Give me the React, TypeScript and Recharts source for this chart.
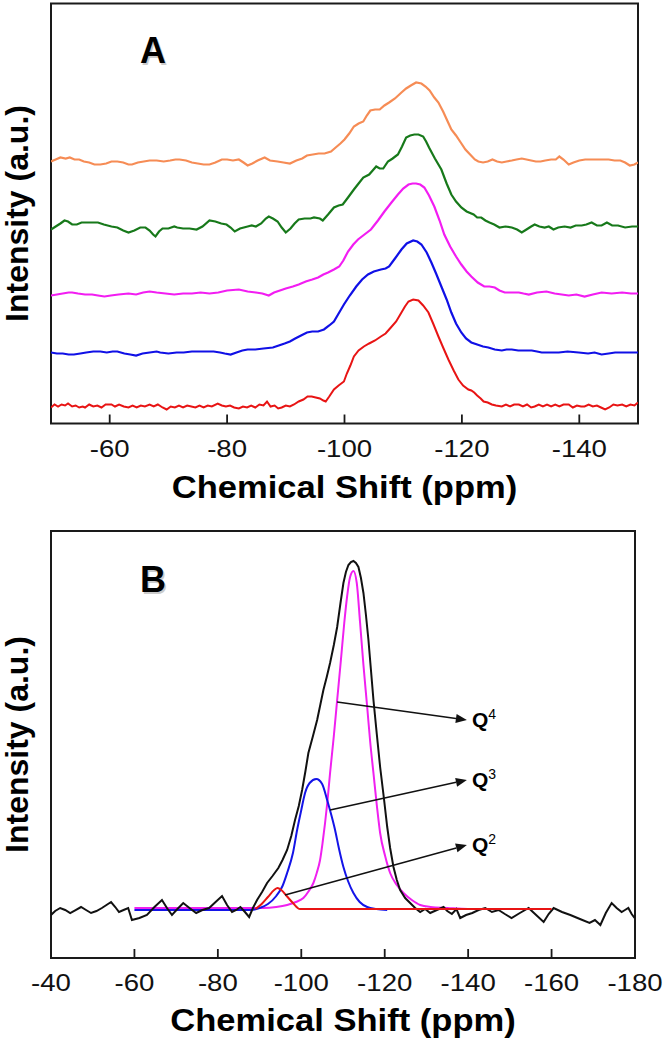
import { LineChart, Line, XAxis, YAxis, ReferenceArea, ReferenceLine, Label } from "recharts"

const FONT = "'Liberation Sans', Arial, Helvetica, sans-serif"

// panel A: stacked 29Si spectra, [ppm, intensity incl. stack offset]
const ticksA = [-60, -80, -100, -120, -140]
const orangeA = [[-50,262],[-50.8,264],[-51.6,266],[-52.5,265],[-53.2,266],[-54,264],[-54.8,264],[-55.6,262],[-56.5,261],[-57.4,259],[-58.4,259],[-59.4,260],[-60.3,262],[-61.3,262],[-62.3,261],[-63.2,259],[-63.8,259],[-64.8,261],[-65.8,262],[-66.8,263],[-68,263],[-69.2,262],[-70.3,263],[-71.2,264],[-71.9,264],[-73,263],[-74,261],[-75,260],[-76,259],[-77,259],[-78,261],[-79.1,264],[-80,264],[-81,263],[-82,264],[-82.8,261],[-83.5,258],[-84.3,260],[-85.2,263],[-86.4,266],[-87.3,263],[-88.6,262],[-89.6,261],[-90.7,260],[-91.8,263],[-92.8,265],[-93.6,268],[-94.6,269],[-95.6,270],[-96.6,270],[-97.7,272],[-98.5,276],[-99.3,280],[-100,284],[-100.8,290],[-101.6,297],[-102.4,300],[-103.2,302],[-103.8,308],[-104.4,313],[-105.2,314],[-106,314],[-106.8,318],[-107.6,321],[-108.6,325],[-109.7,331],[-110.5,335],[-111.3,338],[-112.2,341],[-113.1,340],[-113.8,337],[-114.5,333],[-115.3,326],[-116,321],[-116.8,312],[-117.5,303],[-118.2,294],[-119,288],[-119.8,281],[-120.6,274],[-121.4,269],[-122.2,264],[-122.8,262],[-123.6,261],[-124.4,262],[-125.2,264],[-126,262],[-126.8,261],[-127.6,262],[-128.5,263],[-129.3,264],[-130.2,265],[-131,264],[-131.8,263],[-132.6,262],[-133.4,262],[-134.2,263],[-135.2,264],[-136,264],[-136.6,267],[-137.3,264],[-138.2,259],[-139,261],[-140,263],[-141,264],[-142,264],[-143,264],[-144,264],[-145,264],[-146,263],[-147,263],[-147.8,261],[-148.6,258],[-149.4,259],[-150,261]]
const greenA = [[-50,194],[-50.8,197],[-51.6,200],[-52.3,203],[-52.9,202],[-53.6,199],[-54.4,199],[-55.2,201],[-56.2,201],[-57,201],[-58,201],[-59,199],[-60.3,197],[-61.3,196],[-62.3,193],[-63.2,191],[-64.2,193],[-65.2,196],[-66.1,196],[-66.8,193],[-67.4,189],[-67.8,187],[-68.4,192],[-69,195],[-70,195],[-71,197],[-71.5,196],[-72.5,195],[-73.6,195],[-74.8,194],[-75.8,197],[-77,203],[-78,202],[-79,200],[-79.9,199],[-80.6,196],[-81.3,192],[-82.2,195],[-83.5,197],[-84.2,198],[-84.9,197],[-85.8,200],[-86.6,205],[-87.1,207],[-87.8,205],[-88.6,202],[-89.3,196],[-90,191],[-90.8,195],[-91.5,200],[-92.2,204],[-93.2,205],[-94.2,205],[-94.8,206],[-95.8,205],[-96.3,203],[-97.2,209],[-98.2,216],[-99,218],[-99.7,219],[-100.6,226],[-101.6,234],[-102.4,240],[-103.2,246],[-104.2,249],[-104.8,253],[-105.4,257],[-106,255],[-106.6,255],[-107.4,262],[-108.2,265],[-109.1,269],[-109.8,277],[-110.5,286],[-111.2,288],[-111.9,289],[-112.6,289],[-113.4,287],[-113.9,282],[-114.4,276],[-115.4,265],[-116.5,254],[-117.4,240],[-118.2,229],[-119,222],[-119.9,216],[-120.8,212],[-122,209],[-122.6,206],[-123.3,206],[-124,203],[-124.7,201],[-125.5,199],[-126.4,196],[-127.4,197],[-128.5,196],[-129.4,194],[-130.2,191],[-131,194],[-131.8,197],[-132.4,199],[-133.2,197],[-134.1,196],[-134.8,197],[-135.6,194],[-136.4,196],[-137.5,197],[-138.5,196],[-139.4,198],[-140.4,198],[-141.2,199],[-142.1,201],[-143,198],[-143.8,198],[-144.7,201],[-145.6,198],[-146.6,198],[-147.8,196],[-149,197],[-150,197]]
const magentaA = [[-50,128],[-51,129],[-52,130],[-53,131],[-53.6,131],[-54.6,130],[-55.8,129],[-57,129],[-58,128],[-59.1,127],[-60.2,128],[-61.5,129],[-63.2,130],[-64.5,129],[-65.7,131],[-66.8,132],[-68,131],[-69.5,130],[-71,129],[-72.5,130],[-74,130],[-75.5,131],[-77,130],[-78.5,131],[-80,133],[-82,134],[-83.5,132],[-84.9,131],[-86,130],[-87.1,128],[-88,131],[-89,133],[-90,135],[-91.2,137],[-92.2,139],[-93.4,142],[-94.5,144],[-95.5,146],[-96.4,149],[-97.2,151],[-98.2,154],[-99.1,157],[-99.8,163],[-100.6,172],[-101.5,179],[-102.3,184],[-103.4,189],[-104.5,194],[-105.7,203],[-106.8,212],[-108,221],[-109.1,229],[-110,235],[-110.9,239],[-111.6,240],[-112.2,240],[-112.9,239],[-113.6,236],[-114.4,228],[-115.3,217],[-116.2,203],[-117,189],[-118,177],[-119,167],[-119.9,159],[-120.8,152],[-121.6,147],[-122.7,141],[-123.8,137],[-124.7,137],[-125.6,136],[-126.4,133],[-127.3,131],[-128.5,131],[-129.7,131],[-130.5,130],[-131.4,129],[-132.8,131],[-134.4,132],[-135.8,130],[-137,129],[-138.2,128],[-139.5,129],[-140.9,127],[-142.3,129],[-143.8,131],[-145.5,130],[-147.3,131],[-148.8,130],[-150,130]]
const blueA = [[-50,71],[-51,70],[-52,70],[-53,69],[-53.9,69],[-55,70],[-56,71],[-57.2,72],[-58.4,72],[-59.5,71],[-60.5,72],[-61.3,72],[-62.5,70],[-63.5,69],[-64.5,68],[-65.6,70],[-66.8,71],[-68,72],[-68.6,71],[-70,70],[-71.4,71],[-72.6,71],[-74,72],[-75.5,72],[-76.8,72],[-77.7,72],[-78.8,71],[-79.6,70],[-80.6,69],[-81.6,71],[-82.6,73],[-83.5,74],[-84.8,74],[-86.2,75],[-87.8,76],[-88.8,78],[-89.8,80],[-90.7,82],[-91.6,85],[-92.6,88],[-93.6,91],[-94.5,92],[-95.5,92],[-96.5,94],[-97.4,98],[-98.2,102],[-99,110],[-99.9,119],[-100.9,128],[-102,137],[-103,144],[-104,149],[-105,152],[-106.2,154],[-107,155],[-107.6,157],[-108.6,165],[-109.7,174],[-110.6,180],[-111.7,183],[-112.4,182],[-113.1,179],[-114,171],[-114.8,161],[-115.6,150],[-116.5,137],[-117.4,124],[-118.2,111],[-119,100],[-119.9,91],[-120.7,85],[-121.6,81],[-122.6,79],[-123.6,77],[-124.5,76],[-125.6,74],[-126.8,73],[-127.6,74],[-128.5,74],[-129.6,73],[-130.8,73],[-131.9,73],[-132.8,72],[-133.6,71],[-135,71],[-136.5,71],[-138,72],[-139.9,71],[-141.5,70],[-142.6,71],[-143.8,69],[-145,70],[-146.1,71],[-147.5,71],[-149,71],[-150,71]]
const redA = [[-50,16],[-50.6,19],[-51.2,17],[-51.8,19],[-52.4,18],[-52.9,20],[-53.6,17],[-54.2,18],[-54.8,16],[-55.4,17],[-55.8,16],[-56.5,19],[-57.2,17],[-57.9,18],[-58.6,16],[-59.3,19],[-60.3,19],[-60.9,17],[-61.6,19],[-62.4,17],[-63.2,16],[-63.9,18],[-64.6,16],[-65.3,18],[-66,17],[-66.8,19],[-67.5,17],[-68.2,19],[-69,16],[-69.7,14],[-70.4,17],[-71.1,16],[-71.8,18],[-72.5,16],[-73.2,18],[-73.9,17],[-74.6,16],[-75.3,18],[-76,16],[-76.7,18],[-77.4,17],[-78.4,20],[-79.1,18],[-79.8,17],[-80.5,18],[-81.2,16],[-82,15],[-82.7,17],[-83.4,16],[-84.1,18],[-84.8,16],[-85.5,19],[-86.2,18],[-86.8,22],[-87.4,17],[-88.1,18],[-88.7,15],[-89.3,16],[-90,18],[-90.7,17],[-91.4,19],[-92.2,22],[-93,24],[-93.7,27],[-94.4,27],[-95.1,26],[-95.8,25],[-96.4,23],[-96.8,22],[-97.4,27],[-98.2,34],[-99,38],[-99.9,42],[-100.4,50],[-101,58],[-101.6,67],[-102.4,73],[-103.3,77],[-104.2,80],[-105.2,83],[-106.2,87],[-107,90],[-107.9,96],[-108.8,102],[-109.7,111],[-110.3,117],[-110.9,122],[-111.7,124],[-112.6,123],[-113.4,118],[-114.3,111],[-115.1,100],[-116,87],[-116.8,76],[-117.7,64],[-118.6,53],[-119.4,44],[-120.2,38],[-121.1,34],[-121.6,33],[-122.1,31],[-122.6,28],[-123.2,25],[-123.7,22],[-124.4,21],[-125.1,19],[-125.8,18],[-126.8,17],[-127.5,19],[-128.2,17],[-128.9,19],[-129.7,19],[-130.4,17],[-131.1,19],[-131.8,16],[-132.4,17],[-133.1,19],[-133.8,17],[-134.5,19],[-135.2,17],[-135.9,19],[-136.6,17],[-137.3,19],[-138.2,19],[-138.9,16],[-139.6,18],[-140.3,17],[-140.9,17],[-141.6,19],[-142.3,17],[-143,18],[-143.7,16],[-144.4,14],[-145.1,16],[-145.8,19],[-146.5,18],[-147.3,19],[-148,17],[-148.7,19],[-149.4,18],[-150,21]]

// panel B: measured spectrum and Q2/Q3/Q4 fits
const ticksB = [-40, -60, -80, -100, -120, -140, -160, -180]
const measuredB = [[-40,43],[-41,47],[-42.2,50],[-43.4,48],[-44.6,45],[-45.9,48],[-47.2,51],[-48.4,48],[-49.6,45],[-50.9,47],[-52.2,50],[-53.3,53],[-54.4,56],[-55.4,51],[-56.3,46],[-57.4,48],[-58.5,50],[-59.4,38],[-61.2,40],[-63,43],[-64.8,51],[-66.6,58],[-67.8,50],[-69,43],[-70.3,49],[-71.7,55],[-73.2,50],[-74.8,45],[-76.3,48],[-77.9,50],[-79.2,55],[-81,62],[-82.2,53],[-83.4,46],[-84.4,48],[-85.4,51],[-86.5,46],[-87.5,41],[-88.4,50],[-89.4,58],[-90.6,66],[-91.8,75],[-93.1,82],[-94.5,90],[-95.5,98],[-96.6,108],[-97.6,122],[-98.5,138],[-99.4,152],[-100.2,168],[-101,187],[-101.7,205],[-102.8,222],[-103.8,238],[-104.6,254],[-105.3,268],[-106.1,281],[-106.9,295],[-107.8,313],[-108.6,331],[-109.4,355],[-110.1,375],[-110.7,386],[-111.3,393],[-111.9,396],[-112.5,397],[-113.1,395],[-113.7,391],[-114.3,380],[-114.9,365],[-115.5,343],[-116.1,318],[-116.7,288],[-117.3,258],[-118.1,224],[-118.9,191],[-119.8,160],[-120.6,131],[-121.3,110],[-122.1,91],[-122.9,78],[-123.7,68],[-124.9,60],[-126.1,55],[-127.3,50],[-128.5,46],[-129.7,49],[-130.9,45],[-132.5,48],[-134.1,51],[-135,47],[-136.1,44],[-137.2,49],[-138.1,40],[-139.5,43],[-141,45],[-142.5,48],[-144.1,50],[-145.7,46],[-147.3,48],[-148.8,44],[-150.4,40],[-152.4,45],[-154.5,50],[-156.3,43],[-158.1,36],[-159.3,44],[-160.5,50],[-162.5,46],[-164.5,43],[-166.8,39],[-169.1,35],[-170.4,38],[-171.7,33],[-173,45],[-174.4,55],[-175.6,50],[-176.8,46],[-177.6,48],[-178.4,50],[-179.2,44],[-179.9,40]]
const q4Fit = [[-60,50],[-80,50],[-88,50],[-90.9,50],[-94,51],[-96.6,53],[-98.7,56],[-100.5,60],[-101.8,67],[-102.9,75],[-103.7,85],[-104.5,98],[-105.1,115],[-105.7,135],[-106.3,158],[-106.9,185],[-107.8,222],[-108.6,258],[-109.5,298],[-110.3,335],[-111,362],[-111.7,381],[-112.5,387],[-113.3,375],[-114.1,335],[-114.9,293],[-115.8,251],[-116.5,217],[-117.3,185],[-118.1,153],[-118.9,125],[-120.1,102],[-121.3,85],[-122.9,73],[-124.5,65],[-126.5,58],[-128.5,53],[-131,51],[-135,50],[-140,49],[-146.8,49]]
const q3Fit = [[-60,48],[-80,48],[-88,48],[-90,50],[-92,54],[-94,62],[-95.5,72],[-96.6,85],[-98,105],[-99,128],[-100,148],[-100.9,165],[-102,175],[-103.6,179],[-105,174],[-106.2,158],[-107.2,143],[-108.1,128],[-109,110],[-110.1,91],[-111.2,77],[-112.5,65],[-114,56],[-115.8,51],[-118,49],[-120.6,48]]
const q2Fit = [[-89,49],[-90.5,54],[-92,61],[-93.5,68],[-94.3,70],[-95.2,68],[-96.5,62],[-98,55],[-99.7,49],[-120,49],[-160,49]]

// arrows to the Q labels: start on a curve, end at the label
const qNames = ["4", "3", "2"]
const arrowFrom = [{ x: -108.6, y: 256 }, { x: -106.9, y: 148 }, { x: -96.1, y: 63 }]
const arrowTo = [{ x: -139.7, y: 238 }, { x: -139.7, y: 178 }, { x: -139.7, y: 113 }]

const toPts = (arr: number[][]) => arr.map(([x, y]) => ({ x, y }))

function ShiftTick({ x, y, payload }: any) {
  return (
    <g>
      <line x1={x} y1={y} x2={x} y2={y - 9} stroke="#1a1a1a" strokeWidth={1.8} />
      <text x={0} y={0} transform={`translate(${x},${y + 33}) scale(1.2,1)`} textAnchor="middle"
        fontSize={23} fill="#111" fontFamily={FONT}>{payload.value}</text>
    </g>
  )
}

function XTitle({ viewBox, dy }: any) {
  const cx = viewBox.x + viewBox.width / 2
  return (
    <text x={0} y={0} transform={`translate(${cx},${viewBox.y + dy}) scale(1.08,1)`} textAnchor="middle"
      fontSize={32} fontWeight="bold" fill="#000" fontFamily={FONT}>Chemical Shift (ppm)</text>
  )
}

function YTitle({ viewBox }: any) {
  const x = viewBox.x + 28
  const y = viewBox.y + viewBox.height / 2
  return (
    <text x={x} y={y} transform={`rotate(-90, ${x}, ${y})`} textAnchor="middle"
      fontSize={32} fontWeight="bold" fill="#000" fontFamily={FONT}>Intensity (a.u.)</text>
  )
}

function PanelTag({ viewBox, letter, dy }: any) {
  const x = viewBox.x + 102
  const y = viewBox.y + dy
  return (
    <g fontSize={36} fontWeight="bold" fontFamily={FONT} textAnchor="middle">
      <text x={x + 1.5} y={y + 1.5} fill="#999" opacity={0.5}>{letter}</text>
      <text x={x} y={y} fill="#000">{letter}</text>
    </g>
  )
}

function Arrow({ x1, y1, x2, y2, name }: any) {
  const a = Math.atan2(y2 - y1, x2 - x1)
  const len = 11
  const w = 4.5
  const bx = x2 - len * Math.cos(a)
  const by = y2 - len * Math.sin(a)
  const p1 = `${bx + w * Math.sin(a)},${by - w * Math.cos(a)}`
  const p2 = `${bx - w * Math.sin(a)},${by + w * Math.cos(a)}`
  return (
    <g>
      <line x1={x1} y1={y1} x2={bx} y2={by} stroke="#111" strokeWidth={1.5} />
      <polygon points={`${x2},${y2} ${p1} ${p2}`} fill="#111" />
      <text x={x2 + 5} y={y2 + 7} fontSize={21} fontWeight="bold" fill="#000" fontFamily={FONT}>
        Q<tspan fontSize={14} fontWeight="normal" dy={-8}>{name}</tspan>
      </text>
    </g>
  )
}

export default function App() {
  return (
    <div style={{ position: "absolute", left: 0, top: 0, width: 666, height: 1042, background: "#fff" }}>
      <div style={{ position: "absolute", left: 0, top: 0 }}>
        <LineChart width={666} height={520} margin={{ top: 3.5, right: 28, bottom: 0, left: 0 }}>
          <XAxis type="number" dataKey="x" domain={[-150, -50]} reversed allowDataOverflow ticks={ticksA} interval={0}
            height={96.5} axisLine={false} tickLine={false} tickSize={0} tickMargin={0} tick={(p: any) => <ShiftTick {...p} />}>
            <Label content={(p: any) => <XTitle {...p} dy={74.5} />} />
          </XAxis>
          <YAxis type="number" domain={[0, 420]} width={51} tick={false} axisLine={false} tickLine={false}>
            <Label content={(p: any) => <YTitle {...p} />} />
          </YAxis>
          <ReferenceArea x1={-150} x2={-50} y1={0} y2={420} fill="none" stroke="#1a1a1a" strokeWidth={2} ifOverflow="visible"
            label={(p: any) => <PanelTag {...p} letter="A" dy={59.5} />} />
          <Line data={toPts(orangeA)} dataKey="y" type="linear" stroke="#f68c55" strokeWidth={2.2} dot={false} isAnimationActive={false} />
          <Line data={toPts(greenA)} dataKey="y" type="linear" stroke="#17791a" strokeWidth={2.2} dot={false} isAnimationActive={false} />
          <Line data={toPts(magentaA)} dataKey="y" type="linear" stroke="#f21df2" strokeWidth={2.2} dot={false} isAnimationActive={false} />
          <Line data={toPts(blueA)} dataKey="y" type="linear" stroke="#1010e6" strokeWidth={2.2} dot={false} isAnimationActive={false} />
          <Line data={toPts(redA)} dataKey="y" type="linear" stroke="#e81414" strokeWidth={2} dot={false} isAnimationActive={false} />
        </LineChart>
      </div>
      <div style={{ position: "absolute", left: 0, top: 520 }}>
        <LineChart width={666} height={522} margin={{ top: 11, right: 31, bottom: 0, left: 0 }}>
          <XAxis type="number" dataKey="x" domain={[-180, -40]} reversed allowDataOverflow ticks={ticksB} interval={0}
            height={84} axisLine={false} tickLine={false} tickSize={0} tickMargin={0} tick={(p: any) => <ShiftTick {...p} />}>
            <Label content={(p: any) => <XTitle {...p} dy={73} />} />
          </XAxis>
          <YAxis type="number" domain={[0, 427]} width={51} tick={false} axisLine={false} tickLine={false}>
            <Label content={(p: any) => <YTitle {...p} />} />
          </YAxis>
          <ReferenceArea x1={-180} x2={-40} y1={0} y2={427} fill="none" stroke="#1a1a1a" strokeWidth={2} ifOverflow="visible"
            label={(p: any) => <PanelTag {...p} letter="B" dy={61} />} />
          <Line data={toPts(q4Fit)} dataKey="y" type="monotone" stroke="#f020f0" strokeWidth={2} dot={false} isAnimationActive={false} />
          <Line data={toPts(q3Fit)} dataKey="y" type="monotone" stroke="#1414e8" strokeWidth={2} dot={false} isAnimationActive={false} />
          <Line data={toPts(measuredB)} dataKey="y" type="linear" stroke="#111" strokeWidth={2} dot={false} isAnimationActive={false} />
          <Line data={toPts(q2Fit)} dataKey="y" type="monotone" stroke="#e81414" strokeWidth={2} dot={false} isAnimationActive={false} />
          {qNames.map((n, i) => (
            <ReferenceLine key={n} segment={[arrowFrom[i], arrowTo[i]]} ifOverflow="visible"
              shape={(p: any) => <Arrow {...p} name={n} />} />
          ))}
        </LineChart>
      </div>
    </div>
  )
}
